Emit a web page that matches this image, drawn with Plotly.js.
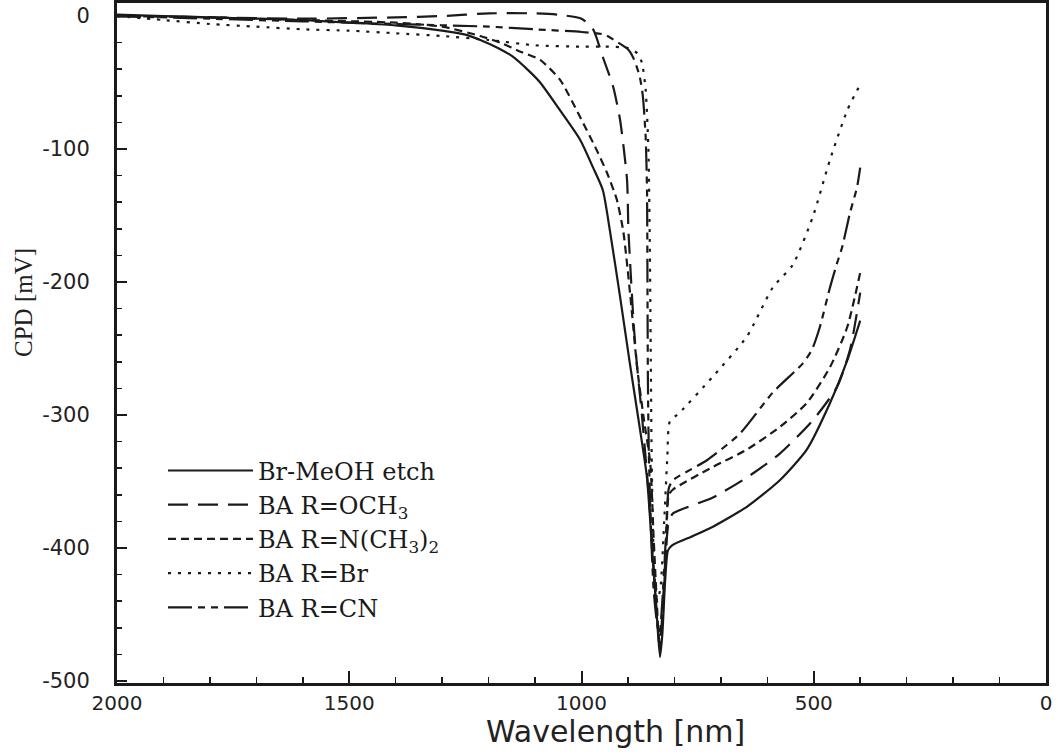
<!DOCTYPE html>
<html>
<head>
<meta charset="utf-8">
<script src="https://cdn.plot.ly/plotly-3.0.1.min.js"></script>
<style>html,body{margin:0;padding:0;background:#fff;}#chart{width:1058px;height:755px;}</style>
</head>
<body>
<div id="chart"></div>
<script>
// Series names
const seriesNames = ['Br-MeOH etch', 'BA R=OCH<sub>3</sub>', 'BA R=N(CH<sub>3</sub>)<sub>2</sub>', 'BA R=Br', 'BA R=CN'];

// Br-MeOH etch (solid)
const wlEtch  = [2000,1900,1800,1700,1600,1500,1400,1300,1250,1218,1180,1150,1111,1089,1046,1003,975,954,939,917,896,874,859,848,838,831,826,820,814,805,760,717,644,573,515,465,428,400];
const cpdEtch = [1,0,-1,-2,-3,-5,-7,-11,-14,-18,-24,-30,-42,-50,-71,-93,-114,-131,-161,-211,-261,-311,-347,-401,-450,-482,-465,-425,-402,-398,-391,-384,-369,-349,-326,-291,-259,-229];

// BA R=OCH3 (long dash)
const wlOch3  = [2000,1800,1600,1400,1300,1200,1100,1050,1000,975,954,932,917,902,899,893,887,881,870,860,850,842,835,831,826,818,812,803,717,644,573,502,450,422,400];
const cpdOch3 = [0,-1,-2,-1,0,2,2,1,-2,-10,-31,-53,-78,-123,-161,-200,-235,-261,-300,-340,-385,-430,-462,-472,-450,-400,-380,-374,-362,-347,-329,-304,-279,-251,-208];

// BA R=N(CH3)2 (short dash)
const wlNme  = [2000,1800,1600,1400,1300,1218,1175,1130,1089,1046,1003,967,945,924,910,895,880,865,852,845,838,832,826,818,812,803,717,644,573,515,465,428,400];
const cpdNme = [0,-1,-3,-5,-8,-15,-20,-27,-33,-48,-76,-101,-118,-138,-162,-210,-265,-305,-336,-390,-440,-475,-455,-400,-360,-356,-339,-326,-309,-291,-264,-234,-193];

// BA R=Br (dotted)
const wlBr  = [2000,1900,1800,1700,1600,1500,1400,1300,1200,1100,1000,950,900,880,870,862,856,853,851,849,846,842,837,830,822,815,810,788,717,644,588,545,502,465,428,407,400];
const cpdBr = [0,-3,-6,-8,-10,-11,-13,-15,-18,-22,-23,-23,-24,-28,-35,-55,-100,-170,-250,-330,-390,-425,-440,-430,-380,-330,-305,-298,-271,-241,-204,-187,-151,-108,-71,-56,-52];

// BA R=CN (long dash + short dashes)
const wlCn  = [2000,1800,1600,1400,1200,1100,1000,950,930,900,889,875,868,862,859,858,857,855,850,845,838,832,826,818,812,803,730,659,588,523,504,487,465,450,439,422,407,400];
const cpdCn = [0,-2,-4,-6,-8,-10,-12,-14,-18,-25,-31,-45,-60,-90,-130,-200,-275,-330,-390,-430,-455,-465,-440,-390,-355,-349,-334,-314,-283,-261,-251,-234,-204,-186,-174,-148,-129,-114];

// Tick labels
const xTickVals = [2000, 1500, 1000, 500, 0];
const xTickText = ['2000', '1500', '1000', '500', '0'];
const yTickVals = [0, -100, -200, -300, -400, -500];
const yTickText = ['0', '-100', '-200', '-300', '-400', '-500'];

const xTitle = 'Wavelength [nm]';
const yTitle = 'CPD [mV]';

const ink = '#1a1a1a';
const dashes = ['solid', '20px,10px', '8px,5px', '3px,7px', '24px,6px,7px,6px,7px,6px'];
const xs = [wlEtch, wlOch3, wlNme, wlBr, wlCn];
const ys = [cpdEtch, cpdOch3, cpdNme, cpdBr, cpdCn];

const traces = seriesNames.map((n, i) => ({
  type: 'scatter', mode: 'lines', name: n,
  x: xs[i], y: ys[i],
  line: {color: ink, width: 2.2, dash: dashes[i], shape: 'spline', smoothing: 0.6}
}));

const layout = {
  width: 1058, height: 755,
  margin: {l: 117, r: 12, t: 3, b: 72},
  paper_bgcolor: '#fff', plot_bgcolor: '#fff',
  showlegend: true,
  legend: {
    x: 0.0495, y: 0.345, xanchor: 'left', yanchor: 'top',
    bgcolor: 'rgba(0,0,0,0)', borderwidth: 0,
    itemwidth: 85,
    font: {family: 'DejaVu Serif', size: 24, color: ink},
    tracegroupgap: 0
  },
  xaxis: {
    range: [2000, 0], tickmode: 'array', tickvals: xTickVals, ticktext: xTickText,
    ticks: 'inside', ticklen: 12, tickwidth: 2, tickcolor: ink,
    minor: {tickmode: 'linear', tick0: 0, dtick: 100, ticks: 'inside', ticklen: 6, tickwidth: 1.5, tickcolor: ink},
    showline: true, linewidth: 3, linecolor: ink, mirror: true,
    showgrid: false, zeroline: false,
    tickfont: {family: 'DejaVu Sans', size: 20, color: '#222'}
  },
  yaxis: {
    range: [-501.5, 9.8], tickmode: 'array', tickvals: yTickVals, ticktext: yTickText,
    ticks: 'inside', ticklen: 10, tickwidth: 2, tickcolor: ink,
    minor: {tickmode: 'linear', tick0: 0, dtick: 20, ticks: 'inside', ticklen: 5, tickwidth: 1.5, tickcolor: ink},
    showline: true, linewidth: 3, linecolor: ink, mirror: true,
    showgrid: false, zeroline: false,
    tickfont: {family: 'DejaVu Sans', size: 21, color: '#222'},
    ticklabelstandoff: 20
  },
  annotations: [
    {text: xTitle, xref: 'paper', yref: 'paper', x: 0.537, y: -0.0425, xanchor: 'center', yanchor: 'top',
     showarrow: false, font: {family: 'DejaVu Sans', size: 30, color: '#222'}},
    {text: yTitle, xref: 'paper', yref: 'paper', x: -0.1, y: 0.559, xanchor: 'center', yanchor: 'middle',
     textangle: -90, showarrow: false, font: {family: 'Liberation Serif', size: 25, color: '#222'}}
  ]
};

Plotly.newPlot('chart', traces, layout, {displayModeBar: false, staticPlot: true});
</script>
</body>
</html>
